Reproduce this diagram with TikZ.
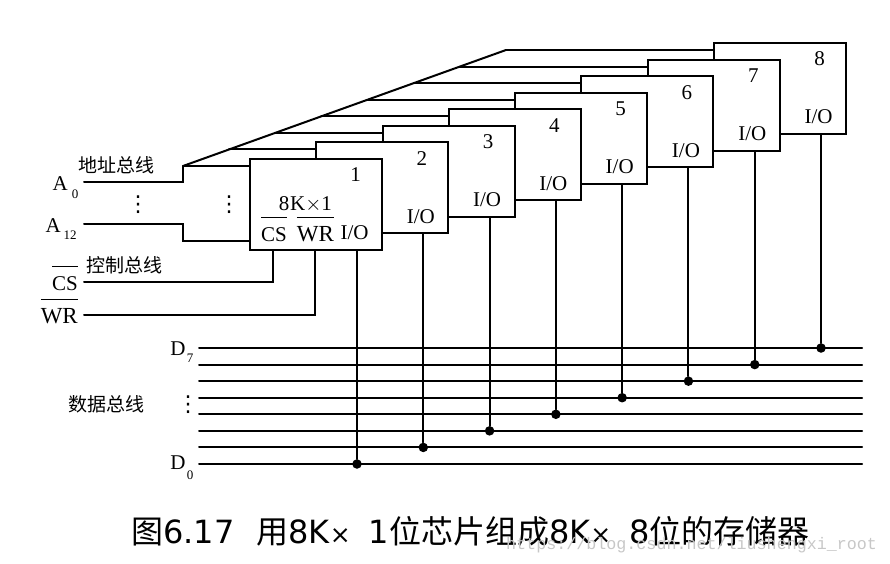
\documentclass[tikz,border=0pt]{standalone}
\usepackage{fontspec}
\setmainfont{Liberation Serif}
\setmonofont{Liberation Mono}
\newfontfamily\cjk{Noto Sans CJK SC}
\newfontfamily\capfont{DejaVu Sans}
\newcommand{\lbl}{\fontsize{21}{21}\selectfont}
\newcommand{\subl}{\fontsize{13}{13}\selectfont}
\newcommand{\barred}[1]{$\overline{\rule{0pt}{22pt}\mbox{#1}}$}
\newcommand{\barredw}[1]{$\overline{\rule{0pt}{22pt}\mbox{\fontsize{23}{23}\selectfont #1}}$}
\newcommand{\vd}{{\capfont\fontsize{22}{22}\selectfont ⋮}}
\tikzset{
	wire/.style = {line width = 2pt, line cap = round},
	chipbox/.style = {draw, line width = 2pt, fill = white, minimum width = 132pt, minimum height = 91pt, anchor = north west, inner sep = 0pt},
	txt/.style = {inner sep = 0pt, font = \lbl},
	zh/.style = {inner sep = 0pt, font = \cjk\fontsize{19}{19}\selectfont},
	joint/.style = {circle, fill = black, inner sep = 0pt, minimum size = 9.5pt}
}
\begin{document}
\begin{tikzpicture}[x = 1pt, y = -1pt]
	\useasboundingbox (0,0) rectangle (890,563);
	\foreach \i [evaluate = \i as \ly using {464-\i*16.57}] in {0,...,7} {
		\coordinate (dl\i) at (199,\ly);
		\coordinate (dr\i) at (862,\ly);
		\draw [wire] (dl\i) -- (dr\i);
	}
	\coordinate (diagS) at (183,166);
	\coordinate (diagE) at (506,50);
	\coordinate (a0L) at (84,182);
	\coordinate (a0M) at (183,182);
	\coordinate (a12L) at (84,224);
	\coordinate (a12M) at (183,224);
	\coordinate (a12N) at (183,241);
	\coordinate (csL) at (84,282);
	\coordinate (wrL) at (84,315);
	\draw [wire] (diagS) -- (diagE);
	\foreach \i [evaluate = \i as \cx using {249+(\i-1)*66.29},
		evaluate = \i as \cy using {158-(\i-1)*16.57},
		evaluate = \i as \bx using {183+(\i-1)*46.1},
		evaluate = \i as \by using {166-(\i-1)*16.57},
		evaluate = \i as \ny using {17+\cy}] in {8,7,...,1} {
		\coordinate (bus\i) at (\bx,\by);
		\node [chipbox] (chip\i) at (\cx,\cy) {};
		\coordinate (tap\i) at ([yshift = -8pt]chip\i.north west);
		\draw [wire] (bus\i) -- (tap\i);
		\node [txt] (num\i) at (\cx+106.5,\ny) {\i};
		\node [txt] (io\i) at (\cx+105.5,\cy+75) {I/O};
		\node [joint] (dot\i) at (\cx+108,464-\i*16.57+16.57) {};
		\draw [wire] ([xshift = 108pt]chip\i.south west) -- (dot\i);
	}
	\draw [wire] (a0L) -- (a0M) -- (diagS);
	\draw [wire] (a12L) -- (a12M) -- (a12N) -- (chip1.west |- a12N);
	\coordinate (csT) at ([xshift = 24pt]chip1.south west);
	\coordinate (wrT) at ([xshift = 66pt]chip1.south west);
	\draw [wire] (csL) -| (csT);
	\draw [wire] (wrL) -| (wrT);
	\node [txt] (eight) at (284,204) {8};
	\node [txt] (kone) at (311,204) {K$\times$1};
	\node [txt, anchor = base] (incs) at (274,241) {\barred{CS}};
	\node [txt, anchor = base] (inwr) at (315.5,241) {\barredw{WR}};
	\node [zh] (addr) at (116,165) {地址总线};
	\node [zh] (ctrl) at (124,265) {控制总线};
	\node [zh] (data) at (106,404) {数据总线};
	\node [txt, anchor = east] (a0) at (68,184) {A};
	\node [inner sep = 0pt, font = \subl] (a0s) at (75,194) {0};
	\node [txt, anchor = east] (a12) at (61,226) {A};
	\node [inner sep = 0pt, font = \subl] (a12s) at (70,235) {12};
	\node [txt, anchor = base east] (cs) at (78,290) {\barred{CS}};
	\node [txt, anchor = base east] (wr) at (78,323) {\barredw{WR}};
	\node [txt] (d7) at (178,349) {D};
	\node [inner sep = 0pt, font = \subl] (d7s) at (190,358) {7};
	\node [txt] (d0) at (178,463) {D};
	\node [inner sep = 0pt, font = \subl] (d0s) at (190,475) {0};
	\node [inner sep = 0pt] (vd1) at (138,205) {\vd};
	\node [inner sep = 0pt] (vd2) at (229,205) {\vd};
	\node [inner sep = 0pt] (vd3) at (188,405) {\vd};
	\node [inner sep = 0pt, anchor = west] (cap) at (131,531) {\fontsize{32}{32}\selectfont\capfont{\cjk 图}6.17\hspace{22pt}{\cjk 用}8K{\fontsize{25}{25}\selectfont ×}\hspace{18pt}1{\cjk 位芯片组成}8K{\fontsize{25}{25}\selectfont ×}\hspace{18pt}8{\cjk 位的存储器}};
	\node [inner sep = 0pt, anchor = west, text = black!22] (mark) at (506,545) {\fontsize{16.7}{16.7}\selectfont\ttfamily https://blog.csdn.net/liushengxi\_root};
\end{tikzpicture}
\end{document}
